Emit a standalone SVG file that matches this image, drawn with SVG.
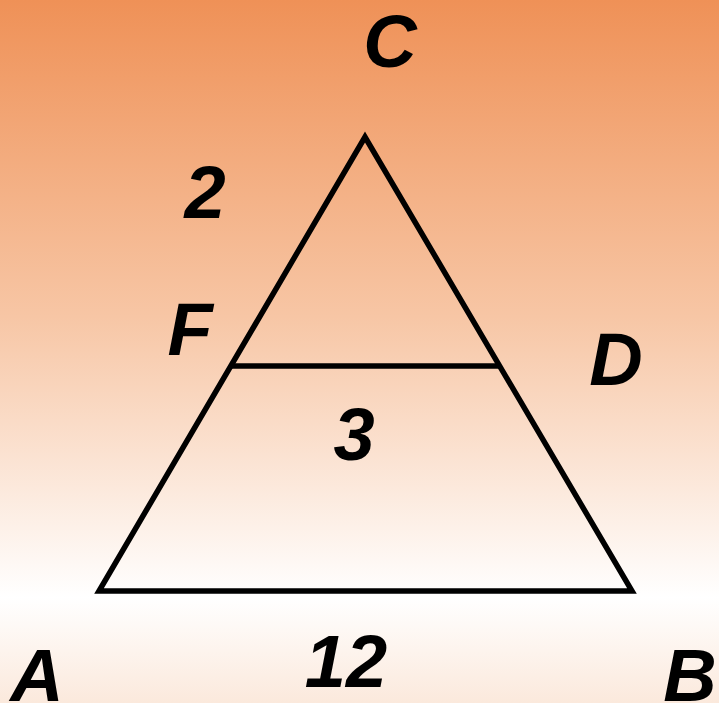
<svg xmlns="http://www.w3.org/2000/svg" width="719" height="703" viewBox="0 0 719 703">
<defs>
<linearGradient id="bg" x1="0" y1="0" x2="0" y2="703" gradientUnits="userSpaceOnUse">
<stop offset="0" stop-color="#EF9157"/>
<stop offset="0.45" stop-color="#F7C6A5"/>
<stop offset="0.85" stop-color="#FFFFFF"/>
<stop offset="1" stop-color="#FBE9DC"/>
</linearGradient>
<style>
.lbl{font-family:"Liberation Sans",Arial,sans-serif;font-weight:bold;font-style:italic;font-size:74px;fill:#000;text-anchor:middle}
.edge{fill:none;stroke:#000;stroke-width:5.5;stroke-linejoin:miter}
</style>
</defs>
<rect x="0" y="0" width="719" height="703" fill="url(#bg)"/>
<g id="connectors">
<polygon class="edge" points="99,591 632,591 365,137"/>
<line class="edge" x1="231" y1="366" x2="499" y2="366"/>
</g>
<g id="C"><text class="lbl" x="390" y="67">C</text></g>
<g id="label2"><text class="lbl" x="205" y="218">2</text></g>
<g id="F"><text class="lbl" x="190" y="355">F</text></g>
<g id="D"><text class="lbl" x="616" y="385">D</text></g>
<g id="label3"><text class="lbl" x="354" y="460">3</text></g>
<g id="label12"><text class="lbl" x="346" y="687">12</text></g>
<g id="A"><text class="lbl" x="37" y="701">A</text></g>
<g id="B"><text class="lbl" x="690" y="701">B</text></g>
</svg>
